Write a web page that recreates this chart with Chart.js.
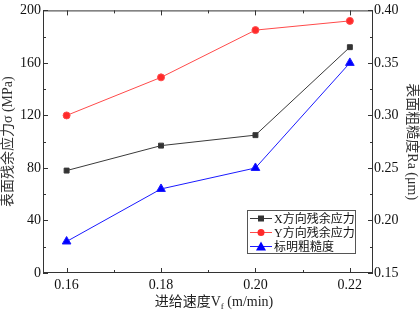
<!DOCTYPE html>
<html>
<head>
<meta charset="utf-8">
<script src="https://cdn.jsdelivr.net/npm/chart.js@4"></script>
<style>
  html, body { margin: 0; padding: 0; background: #fff; }
  #wrap { width: 420px; height: 313px; position: relative; }
</style>
</head>
<body>
<div id="wrap"><canvas id="c"></canvas></div>
<script>
const feedRates = [0.16, 0.18, 0.20, 0.22];
const stressX   = [78, 97, 105, 172];
const stressY   = [120, 149, 185, 192];
const roughness = [0.18, 0.23, 0.25, 0.35];
const seriesLabels = ['X方向残余应力', 'Y方向残余应力', '标明粗糙度'];

const FONT = "'Liberation Serif', 'Noto Sans CJK SC', serif";

const pts = (ys) => feedRates.map((x, i) => ({ x, y: ys[i] }));

/* inward major/minor ticks on all four sides */
const tickMarks = {
  id: 'tickMarks',
  afterDraw(chart) {
    const { ctx, chartArea: a, scales } = chart;
    ctx.save();
    ctx.strokeStyle = '#333';
    ctx.lineWidth = 1;
    ctx.strokeRect(a.left + 0.5, a.top + 0.5, a.right - a.left - 1, a.bottom - a.top - 1);
    ctx.beginPath();
    for (let v = 0.16; v <= 0.2201; v += 0.01) {
      const px = Math.round(scales.x.getPixelForValue(v)) + 0.5;
      const major = Math.round(v * 100) % 2 === 0;
      const len = major ? 5 : 3;
      ctx.moveTo(px, a.bottom); ctx.lineTo(px, a.bottom - len);
      ctx.moveTo(px, a.top); ctx.lineTo(px, a.top + len);
    }
    for (let v = 0; v <= 200; v += 20) {
      const py = Math.round(scales.y.getPixelForValue(v)) + 0.5;
      const len = v % 40 === 0 ? 5 : 3;
      ctx.moveTo(a.left, py); ctx.lineTo(a.left + len, py);
    }
    for (let i = 0; i <= 10; i++) {
      const v = 0.15 + i * 0.025;
      const py = Math.round(scales.y1.getPixelForValue(v)) + 0.5;
      const len = i % 2 === 0 ? 5 : 3;
      ctx.moveTo(a.right, py); ctx.lineTo(a.right - len, py);
    }
    ctx.stroke();
    ctx.restore();
  }
};

/* x title with subscript f */
const xTitle = {
  id: 'xTitle',
  afterDraw(chart) {
    const { ctx } = chart;
    ctx.save();
    ctx.fillStyle = '#222';
    ctx.textBaseline = 'alphabetic';
    const parts = [
      { t: '进给速度V', f: `14px ${FONT}`, dy: 0 },
      { t: 'f', f: `9px ${FONT}`, dy: 3 },
      { t: ' (m/min)', f: `14px ${FONT}`, dy: 0 },
    ];
    let w = 0;
    parts.forEach(p => { ctx.font = p.f; w += ctx.measureText(p.t).width; });
    let x = 214 - w / 2;
    const y = 306;
    parts.forEach(p => {
      ctx.font = p.f;
      ctx.fillText(p.t, x, y + p.dy);
      x += ctx.measureText(p.t).width;
    });
    ctx.restore();
  }
};

/* boxed legend inside plot */
const boxLegend = {
  id: 'boxLegend',
  afterDraw(chart) {
    const { ctx } = chart;
    const bx = 247, by = 210, bw = 108, bh = 43;
    ctx.save();
    ctx.fillStyle = '#fff';
    ctx.fillRect(bx, by, bw, bh);
    ctx.strokeStyle = '#555';
    ctx.lineWidth = 1;
    ctx.strokeRect(bx + 0.5, by + 0.5, bw, bh);
    chart.data.datasets.forEach((ds, i) => {
      const y = by + 8.5 + i * 14;
      ctx.strokeStyle = ds.borderColor;
      ctx.beginPath();
      ctx.moveTo(bx + 3, y); ctx.lineTo(bx + 25, y);
      ctx.stroke();
      ctx.fillStyle = ds.backgroundColor;
      const cx = bx + 14;
      if (ds.pointStyle === 'rect') ctx.fillRect(cx - 3, y - 3, 6, 6);
      else if (ds.pointStyle === 'circle') { ctx.beginPath(); ctx.arc(cx, y, 3.5, 0, Math.PI * 2); ctx.fill(); }
      else { ctx.beginPath(); ctx.moveTo(cx, y - 5); ctx.lineTo(cx + 5, y + 4); ctx.lineTo(cx - 5, y + 4); ctx.closePath(); ctx.fill(); }
      ctx.fillStyle = '#111';
      ctx.font = `12px ${FONT}`;
      ctx.textBaseline = 'middle';
      ctx.fillText(ds.label, bx + 27, y + 1);
    });
    ctx.restore();
  }
};

new Chart(document.getElementById('c'), {
  type: 'line',
  data: {
    datasets: [
      { label: seriesLabels[0], data: pts(stressX), yAxisID: 'y', borderColor: '#3a3a3a', backgroundColor: '#333',
        pointStyle: 'rect', pointRadius: 3.5, borderWidth: 1 },
      { label: seriesLabels[1], data: pts(stressY), yAxisID: 'y', borderColor: '#ff4a4a', backgroundColor: '#ff2a2a',
        pointStyle: 'circle', pointRadius: 3.5, borderWidth: 1 },
      { label: seriesLabels[2], data: pts(roughness), yAxisID: 'y1', borderColor: '#1a1aff', backgroundColor: '#0000ff',
        pointStyle: 'triangle', pointRadius: 5, borderWidth: 1 },
    ]
  },
  options: {
    responsive: true,
    maintainAspectRatio: false,
    animation: false,
    layout: { padding: { top: 7, left: 0, right: 0, bottom: 0 } },
    plugins: { legend: { display: false }, tooltip: { enabled: false } },
    scales: {
      x: {
        type: 'linear', min: 0.155, max: 0.2249,
        afterBuildTicks: s => { s.ticks = feedRates.map(v => ({ value: v })); },
        afterFit: s => { s.height = 40; },
        grid: { display: false, drawTicks: false },
        border: { display: false },
        ticks: { color: '#111', font: { family: FONT, size: 14 }, padding: 4,
                 callback: v => v.toFixed(2) },
      },
      y: {
        position: 'left', min: 0, max: 200,
        afterBuildTicks: s => { s.ticks = [0, 40, 80, 120, 160, 200].map(v => ({ value: v })); },
        afterFit: s => { s.width = 43; },
        grid: { display: false, drawTicks: false },
        border: { display: false },
        ticks: { color: '#111', font: { family: FONT, size: 14 }, padding: 2 },
        title: { display: true, text: '表面残余应力σ (MPa)', color: '#333', padding: 0,
                 font: { family: FONT, size: 14 } },
      },
      y1: {
        position: 'right', min: 0.15, max: 0.40,
        afterBuildTicks: s => { s.ticks = [0.15, 0.20, 0.25, 0.30, 0.35, 0.40].map(v => ({ value: v })); },
        afterFit: s => { s.width = 47; },
        grid: { display: false, drawTicks: false },
        border: { display: false },
        ticks: { color: '#111', font: { family: FONT, size: 14 }, padding: 1,
                 callback: v => v.toFixed(2) },
        title: { display: true, text: '表面粗糙度Ra (μm)', color: '#333', padding: 0,
                 font: { family: FONT, size: 14 } },
      },
    },
  },
  plugins: [tickMarks, xTitle, boxLegend],
});
</script>
</body>
</html>
